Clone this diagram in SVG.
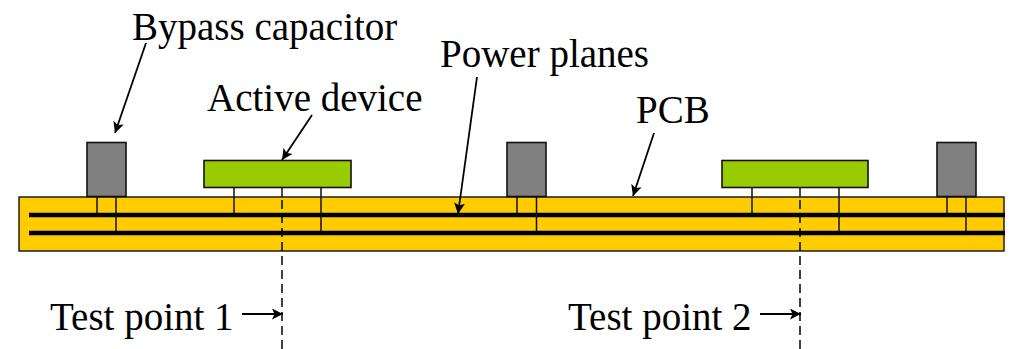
<svg xmlns="http://www.w3.org/2000/svg" width="1017" height="349" viewBox="0 0 1017 349">
<style>
text{font-family:"Liberation Serif","Times New Roman",serif;font-size:39px;fill:#000}
.cap{fill:#808080;stroke:#111;stroke-width:1.6}
.dev{fill:#99cc00;stroke:#111;stroke-width:1.6}
.pcb{fill:#ffcc00;stroke:#111;stroke-width:1.4}
.plane{stroke:#000;stroke-width:4.5;fill:none}
.pin{stroke:#111;stroke-width:1.5;fill:none}
.dash{stroke:#000;stroke-width:1.5;stroke-dasharray:9 5;fill:none}
.arr{stroke:#000;stroke-width:1.8;fill:none;marker-end:url(#a)}
</style>
<defs><marker id="a" markerUnits="userSpaceOnUse" markerWidth="13" markerHeight="12" refX="11" refY="5.500" orient="auto"><path d="M0 0L11 5.500L0 11L2.500 5.500z" fill="#000"/></marker></defs>
<g id="pcb"><rect class="pcb" x="19" y="197" width="985" height="54"/>
<line class="plane" x1="29" y1="215" x2="1005" y2="215"/><line class="plane" x1="29" y1="233" x2="1005" y2="233"/></g>
<g id="cap1"><rect class="cap" x="87" y="142.500" width="39" height="54"/></g>
<g id="cap2"><rect class="cap" x="507" y="142.500" width="39" height="54"/></g>
<g id="cap3"><rect class="cap" x="937" y="142.500" width="39" height="54"/></g>
<g id="dev1"><rect class="dev" x="204" y="160.500" width="147" height="27"/></g>
<g id="dev2"><rect class="dev" x="722" y="160.500" width="146" height="27"/></g>
<g id="connectors">
<path class="pin" d="M97 197V213M116 197V231M517 197V213M536.500 197V231M947 197V213M966 197V231M234 188V213M321 188V231M752 188V213M839 188V231M282 188V197M800 188V197"/>
<line class="dash" x1="282" y1="200" x2="282" y2="349"/><line class="dash" x1="800" y1="200" x2="800" y2="349"/>
<line class="arr" x1="146" y1="43" x2="115" y2="133"/>
<line class="arr" x1="312" y1="115" x2="282" y2="160"/>
<line class="arr" x1="477" y1="77" x2="458" y2="214"/>
<line class="arr" x1="654" y1="133" x2="633" y2="196"/>
<line class="arr" x1="242" y1="314" x2="283" y2="314"/>
<line class="arr" x1="760" y1="314" x2="801" y2="314"/>
</g>
<g id="labels">
<text x="132" y="40">Bypass capacitor</text>
<text x="207" y="111">Active device</text>
<text x="440" y="67">Power planes</text>
<text x="636" y="123">PCB</text>
<text x="50" y="330">Test point 1</text>
<text x="568" y="330">Test point 2</text>
</g>
</svg>
